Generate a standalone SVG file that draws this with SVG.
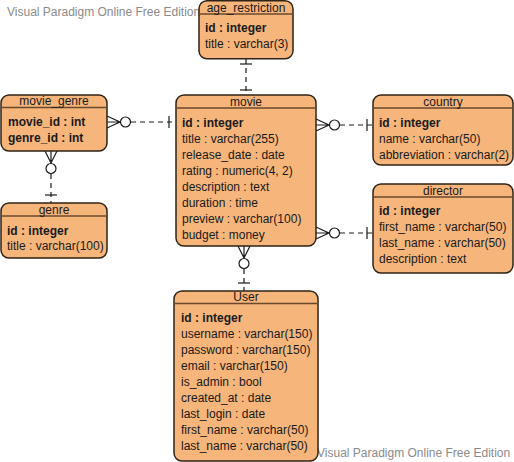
<svg xmlns="http://www.w3.org/2000/svg" width="514" height="462" viewBox="0 0 514 462">
<style>
.wm{font-family:"Liberation Sans",Arial,sans-serif;font-size:12px;fill:#8a8a8a}
.box{fill:#F5B57B;stroke:#2e2316;stroke-width:1.5}
.div{stroke:#6b4a2c;stroke-width:1.5}
.hd{font-family:"Liberation Sans",Arial,sans-serif;font-size:12px;fill:#1a1a1a;text-anchor:middle}
.at{font-family:"Liberation Sans",Arial,sans-serif;font-size:12px;fill:#1a1a1a}
.pk{font-weight:bold}
.ln{stroke:#1a1a1a;stroke-width:1.2;fill:none}
.dash{stroke:#1a1a1a;stroke-width:1.2;fill:none;stroke-dasharray:5,4}
.circ{stroke:#1a1a1a;stroke-width:1.2;fill:#fff}
</style>
<rect width="514" height="462" fill="#fff"/>
<text class="wm" x="7" y="16">Visual Paradigm Online Free Edition</text>
<text class="wm" x="317" y="457">Visual Paradigm Online Free Edition</text>

<g id="connectors">
  <!-- age_restriction - movie -->
  <line class="dash" x1="246" y1="59" x2="246" y2="95"/>
  <line class="ln" x1="240" y1="64" x2="252" y2="64"/>
  <line class="ln" x1="240" y1="90" x2="252" y2="90"/>
  <!-- movie_genre - movie -->
  <path class="ln" d="M107,116 L120,122 L107,128 M107,122 L120,122"/>
  <circle class="circ" cx="125.5" cy="122" r="5"/>
  <line class="dash" x1="131" y1="122" x2="176" y2="122"/>
  <line class="ln" x1="169" y1="116" x2="169" y2="128"/>
  <!-- movie_genre - genre -->
  <path class="ln" d="M45,151 L51,163 L57,151 M51,151 L51,163"/>
  <circle class="circ" cx="51" cy="168.5" r="5"/>
  <line class="dash" x1="51" y1="174" x2="51" y2="203"/>
  <line class="ln" x1="45" y1="195" x2="57" y2="195"/>
  <!-- movie - country -->
  <path class="ln" d="M316,119 L329,125 L316,131 M316,125 L329,125"/>
  <circle class="circ" cx="334.5" cy="125" r="5"/>
  <line class="dash" x1="340" y1="125" x2="373" y2="125"/>
  <line class="ln" x1="367" y1="119" x2="367" y2="131"/>
  <!-- movie - director -->
  <path class="ln" d="M316,227 L329,233 L316,239 M316,233 L329,233"/>
  <circle class="circ" cx="334.5" cy="233" r="5"/>
  <line class="dash" x1="340" y1="233" x2="373" y2="233"/>
  <line class="ln" x1="367" y1="227" x2="367" y2="239"/>
  <!-- movie - User -->
  <path class="ln" d="M238,246 L244,258 L250,246 M244,246 L244,258"/>
  <circle class="circ" cx="244" cy="263.5" r="5"/>
  <line class="dash" x1="244" y1="269" x2="244" y2="291"/>
  <line class="ln" x1="238" y1="283" x2="250" y2="283"/>
</g>

<g id="age_restriction">
  <rect class="box" x="199" y="0.75" width="94" height="58" rx="8"/>
  <line class="div" x1="199" y1="14" x2="293" y2="14"/>
  <text class="hd" x="246" y="12">age_restriction</text>
  <text class="at pk" x="205" y="32">id : integer</text>
  <text class="at" x="205" y="48">title : varchar(3)</text>
</g>

<g id="movie_genre">
  <rect class="box" x="1" y="95" width="106" height="56" rx="8"/>
  <line class="div" x1="1" y1="107.5" x2="107" y2="107.5"/>
  <text class="hd" x="54" y="105">movie_genre</text>
  <text class="at pk" x="8" y="126">movie_id : int</text>
  <text class="at pk" x="8" y="142">genre_id : int</text>
</g>

<g id="genre">
  <rect class="box" x="1" y="203" width="106" height="55" rx="8"/>
  <line class="div" x1="1" y1="216" x2="107" y2="216"/>
  <text class="hd" x="54" y="214">genre</text>
  <text class="at pk" x="7" y="235">id : integer</text>
  <text class="at" x="7" y="250">title : varchar(100)</text>
</g>

<g id="movie">
  <rect class="box" x="176" y="95" width="140" height="151" rx="8"/>
  <line class="div" x1="176" y1="108" x2="316" y2="108"/>
  <text class="hd" x="246" y="106">movie</text>
  <text class="at pk" x="182" y="127">id : integer</text>
  <text class="at" x="182" y="143">title : varchar(255)</text>
  <text class="at" x="182" y="159">release_date : date</text>
  <text class="at" x="182" y="175">rating : numeric(4, 2)</text>
  <text class="at" x="182" y="191">description : text</text>
  <text class="at" x="182" y="207">duration : time</text>
  <text class="at" x="182" y="223">preview : varchar(100)</text>
  <text class="at" x="182" y="239">budget : money</text>
</g>

<g id="country">
  <rect class="box" x="373" y="95" width="140" height="70" rx="8"/>
  <line class="div" x1="373" y1="108" x2="513" y2="108"/>
  <text class="hd" x="443" y="106">country</text>
  <text class="at pk" x="379" y="127">id : integer</text>
  <text class="at" x="379" y="143">name : varchar(50)</text>
  <text class="at" x="379" y="159">abbreviation : varchar(2)</text>
</g>

<g id="director">
  <rect class="box" x="373" y="184" width="140" height="89" rx="8"/>
  <line class="div" x1="373" y1="197" x2="513" y2="197"/>
  <text class="hd" x="443" y="195">director</text>
  <text class="at pk" x="379" y="215">id : integer</text>
  <text class="at" x="379" y="231">first_name : varchar(50)</text>
  <text class="at" x="379" y="247">last_name : varchar(50)</text>
  <text class="at" x="379" y="263">description : text</text>
</g>

<g id="User">
  <rect class="box" x="174" y="291" width="144" height="170" rx="8"/>
  <line class="div" x1="174" y1="303.5" x2="318" y2="303.5"/>
  <text class="hd" x="246" y="301">User</text>
  <text class="at pk" x="181" y="322">id : integer</text>
  <text class="at" x="181" y="338">username : varchar(150)</text>
  <text class="at" x="181" y="354">password : varchar(150)</text>
  <text class="at" x="181" y="370">email : varchar(150)</text>
  <text class="at" x="181" y="386">is_admin : bool</text>
  <text class="at" x="181" y="402">created_at : date</text>
  <text class="at" x="181" y="418">last_login : date</text>
  <text class="at" x="181" y="434">first_name : varchar(50)</text>
  <text class="at" x="181" y="450">last_name : varchar(50)</text>
</g>
</svg>
